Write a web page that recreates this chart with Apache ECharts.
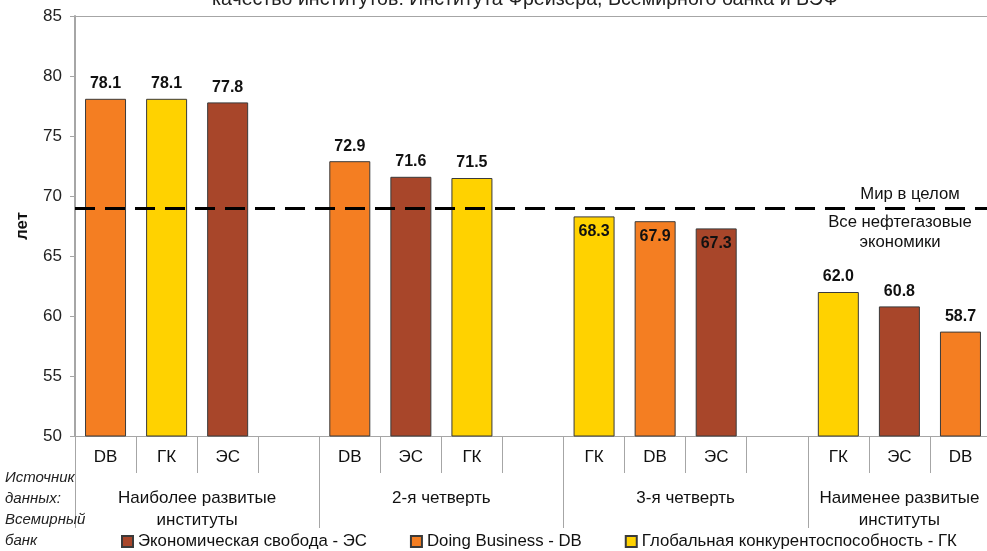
<!DOCTYPE html>
<html>
<head>
<meta charset="utf-8">
<script src="https://cdn.jsdelivr.net/npm/echarts@6/dist/echarts.min.js"></script>
<style>
  html, body { margin: 0; padding: 0; background: #fff; overflow: hidden; }
  #chart { width: 992px; height: 551px; }
</style>
</head>
<body>
<div id="chart"></div>
<script>
// Life expectancy (years) by institutional quality group and index
var slotCodes  = ['DB', 'ГК', 'ЭС', '', 'DB', 'ЭС', 'ГК', '', 'ГК', 'DB', 'ЭС', '', 'ГК', 'ЭС', 'DB'];
var slotValues = [78.1, 78.1, 77.8, null, 72.9, 71.6, 71.5, null, 68.3, 67.9, 67.3, null, 62.0, 60.8, 58.7];

var groupNames = ['Наиболее развитые\nинституты', '2-я четверть', '3-я четверть', 'Наименее развитые\nинституты'];
var groupSizes = [4, 4, 4, 3];

var seriesCodes = ['ЭС', 'DB', 'ГК'];
var seriesNames = ['Экономическая свобода - ЭС', 'Doing Business - DB', 'Глобальная конкурентоспособность - ГК'];
var seriesColors = ['#A8462A', '#F47E22', '#FFD200'];

var worldLevel = 69.0;
var oilGasLevel = 69.0;

var yTicks = { min: 50, max: 85, interval: 5 };

// group index of every slot
var slotGroup = [];
groupSizes.forEach(function (n, g) { for (var i = 0; i < n; i++) slotGroup.push(g); });

// half-slot axis used for the group captions and the long separators
var halfData = [];
var groupTickIdx = {};
var total = slotCodes.length;
for (var h = 0; h <= total * 2; h++) halfData.push('');
var start = 0;
groupSizes.forEach(function (n, g) {
  groupTickIdx[start * 2] = true;
  halfData[start * 2 + n] = groupNames[g];
  start += n;
});
groupTickIdx[total * 2] = true;

var font = 'Liberation Sans, Arial, sans-serif';

var series = seriesCodes.map(function (code, s) {
  var data = slotCodes.map(function (c, i) {
    if (c !== code || slotValues[i] == null) return '-';
    var item = { value: slotValues[i] };
    if (slotGroup[i] === 2) {
      item.label = { position: 'insideTop', distance: 7 };
    }
    return item;
  });
  var ser = {
    name: seriesNames[s],
    type: 'bar',
    xAxisIndex: 0,
    barWidth: 41,
    barGap: '-100%',
    data: data,
    itemStyle: { color: seriesColors[s], borderColor: '#3a3a3a', borderWidth: 1 },
    label: {
      show: true,
      position: 'top',
      distance: 7,
      fontFamily: font,
      fontSize: 16,
      fontWeight: 'bold',
      color: '#111',
      formatter: function (p) { return Number(p.value).toFixed(1); }
    }
  };
  if (s === 2) {
    ser.markLine = {
      silent: true,
      symbol: 'none',
      animation: false,
      lineStyle: { color: '#000', width: 3, type: [20, 10] },
      data: [
        {
          yAxis: worldLevel,
          label: {
            show: true, formatter: 'Мир в целом', position: 'insideEndTop', align: 'center',
            distance: [81, 5], fontSize: 16.7, color: '#111', fontFamily: font
          }
        },
        {
          yAxis: oilGasLevel,
          label: {
            show: true, formatter: 'Все нефтегазовые\nэкономики', position: 'insideEndBottom', align: 'center',
            distance: [91, 4], lineHeight: 20, fontSize: 16.7, color: '#111', fontFamily: font
          }
        }
      ]
    };
  }
  return ser;
});

var chart = echarts.init(document.getElementById('chart'), null, { renderer: 'canvas' });
chart.setOption({
  animation: false,
  backgroundColor: '#fff',
  textStyle: { fontFamily: font },
  title: [
    {
      text: 'качество институтов: Института Фрейзера, Всемирного банка и ВЭФ',
      left: 212, top: -10, padding: 0,
      textStyle: { fontSize: 19.6, fontWeight: 'normal', color: '#222', fontFamily: font }
    },
    {
      text: 'Источник\nданных:\nВсемирный\nбанк',
      left: 5, top: 467, padding: 0,
      textStyle: { fontSize: 15, fontStyle: 'italic', fontWeight: 'normal', color: '#222', lineHeight: 21, fontFamily: font }
    }
  ],
  legend: {
    data: seriesNames,
    left: 121, top: 533, padding: 0,
    icon: 'rect', itemWidth: 11, itemHeight: 11, itemGap: 43,
    textStyle: { fontSize: 16.8, color: '#111', fontFamily: font }
  },
  grid: {
    left: 75, top: 16, right: 1, bottom: 115,
    show: false, containLabel: false
  },
  xAxis: [
    {
      type: 'category',
      data: slotCodes,
      position: 'bottom',
      axisLine: { show: true, lineStyle: { color: '#a6a6a6', width: 1 } },
      axisTick: { show: true, interval: 0, length: 37, lineStyle: { color: '#a6a6a6' } },
      axisLabel: { interval: 0, margin: 13, fontSize: 17, color: '#111', fontFamily: font }
    },
    {
      type: 'category',
      data: halfData,
      position: 'bottom',
      boundaryGap: false,
      axisLine: { show: false },
      axisTick: {
        show: true, length: 92, lineStyle: { color: '#a6a6a6' },
        interval: function (idx) { return !!groupTickIdx[idx]; }
      },
      axisLabel: {
        margin: 51, fontSize: 17, color: '#111', lineHeight: 22, align: 'center', fontFamily: font,
        interval: function (idx, val) { return val !== ''; }
      }
    },
    {
      // frame line along the top of the plot
      type: 'category',
      data: slotCodes,
      position: 'top',
      axisLine: { show: true, lineStyle: { color: '#a6a6a6', width: 1 } },
      axisTick: { show: false },
      axisLabel: { show: false }
    }
  ],
  yAxis: {
    type: 'value',
    min: yTicks.min, max: yTicks.max, interval: yTicks.interval,
    name: 'лет', nameLocation: 'middle', nameGap: 44,
    nameTextStyle: { fontSize: 17, fontWeight: 'bold', color: '#111', fontFamily: font },
    axisLine: { show: true, lineStyle: { color: '#a6a6a6', width: 2 } },
    axisTick: { show: true, length: 5, lineStyle: { color: '#a6a6a6' } },
    splitLine: { show: false },
    axisLabel: { margin: 13, fontSize: 17, color: '#222', fontFamily: font }
  },
  series: series
});
</script>
</body>
</html>
